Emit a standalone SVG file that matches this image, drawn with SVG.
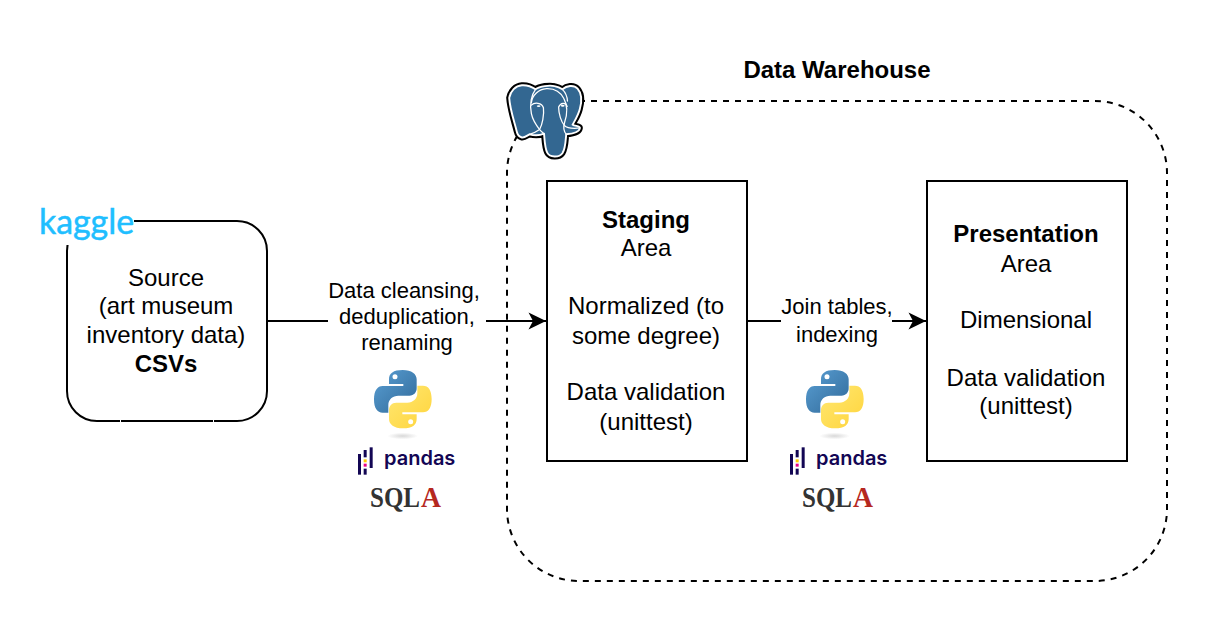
<svg xmlns="http://www.w3.org/2000/svg" width="1208" height="622" viewBox="0 0 1208 622">
<style>
text{font-family:"Liberation Sans",Arial,sans-serif;fill:#000;text-anchor:middle}
.t24{font-size:24px}
.t22{font-size:22px}
.b{font-weight:bold}
.box{fill:#fff;stroke:#000;stroke-width:2}
.conn{fill:none;stroke:#000;stroke-width:2}
.pd{font-family:"Inter","Open Sans",sans-serif;font-size:20px;font-weight:600;fill:#130654;text-anchor:start}
.sq{font-family:"Liberation Serif",serif;font-size:25px;font-weight:bold;fill:#333;text-anchor:start}
.sa{fill:#b5281f}
.elw{fill:none;stroke:#fff;stroke-width:4;stroke-linejoin:round;stroke-linecap:round}
</style>
<defs>
<marker id="arr" markerWidth="20" markerHeight="20" refX="18" refY="10" orient="auto" markerUnits="userSpaceOnUse"><path d="M0.5,1.500 L18,10 L0.5,18.500 L5,10 Z" fill="#000"/></marker>
<linearGradient id="pb" x1="0" y1="0" x2="1" y2="1"><stop offset="0" stop-color="#5a9fd4"/><stop offset="1" stop-color="#306998"/></linearGradient>
<linearGradient id="py" x1="0" y1="0" x2="1" y2="1"><stop offset="0" stop-color="#ffe873"/><stop offset="1" stop-color="#ffd43b"/></linearGradient>
<radialGradient id="ps"><stop offset="0" stop-color="#b8b8b8" stop-opacity=".55"/><stop offset="1" stop-color="#b8b8b8" stop-opacity="0"/></radialGradient>
<g id="python">
<ellipse cx="158" cy="228" rx="46" ry="10" fill="url(#ps)"/>
<path fill="url(#pb)" d="M158,30 C130,30 117,40 117,58 L117,72 L160,72 L160,78 L98,78 C82,78 72,92 72,118 C72,145 82,158 98,158 L115,158 L115,135 C115,118 128,107 145,107 L178,107 C192,107 200,97 200,85 L200,58 C200,42 185,30 158,30 Z"/>
<circle cx="135" cy="50" r="7.5" fill="#fff"/>
<path fill="url(#py)" d="M159,205 C187,205 200,195 200,177 L200,163 L157,163 L157,157 L219,157 C235,157 245,143 245,117 C245,90 235,77 219,77 L202,77 L202,100 C202,117 189,128 172,128 L139,128 C125,128 117,138 117,150 L117,177 C117,193 132,205 159,205 Z"/>
<circle cx="182" cy="185" r="7.5" fill="#fff"/>
</g>
<g id="pmark" fill="#130654">
<rect x="24" y="282" width="9" height="62"/>
<rect x="59" y="262" width="9" height="62"/>
<rect x="41" y="270" width="9" height="22"/>
<rect x="41" y="326" width="9" height="18"/>
<rect x="41" y="298" width="9" height="9" fill="#ffca00"/>
<rect x="41" y="311" width="9" height="9" fill="#e70488"/>
</g>
<path id="elbody" d="M22,65 C26,42 42,27 62,25 C78,24 94,30 105,38 C118,28 150,24 165,28 C175,30 184,34 190,38 C203,27 225,22 238,36 C250,50 252,75 245,100 C240,120 230,135 222,150 C230,155 246,152 245,160 C244,172 225,178 202,180 C200,200 200,225 190,240 C180,254 150,254 142,238 C134,222 134,200 132,178 C118,184 100,184 86,180 C78,184 70,192 62,190 C54,188 48,182 46,172 C38,140 24,100 22,65 Z"/>
</defs>

<g id="connectors">
<path class="conn" d="M267,321 H546" marker-end="url(#arr)"/>
<path class="conn" d="M747,321 H926" marker-end="url(#arr)"/>
</g>

<g id="warehouse">
<rect x="507" y="101" width="660" height="480" rx="72" ry="72" fill="none" stroke="#000" stroke-width="2" stroke-dasharray="6 6"/>
<text class="t24 b" x="837" y="78">Data Warehouse</text>
</g>

<g id="postgres-logo" transform="translate(500 75) scale(.33333) translate(135 138) scale(.95) translate(-135 -138)">
<use href="#elbody" fill="#fff" stroke="#000" stroke-width="19" stroke-linejoin="round"/>
<use href="#elbody" fill="#336791" stroke="#fff" stroke-width="6" stroke-linejoin="round"/>
<path class="elw" d="M105,38 C92,55 86,85 92,115 C96,135 110,155 118,165 C124,172 128,175 132,178"/>
<path class="elw" d="M92,80 C95,55 115,38 140,36 C165,35 185,48 195,68 C208,92 205,118 197,142 C193,155 192,168 202,180"/>
<path class="elw" d="M190,38 C200,48 205,60 206,75"/>
<path class="elw" d="M92,88 C102,78 125,80 130,96 C133,120 126,150 118,165 C108,172 96,178 86,180"/>
<path class="elw" d="M178,94 C184,80 200,78 205,92 M178,94 C178,115 186,140 196,152 C206,162 226,162 245,160"/>
<ellipse cx="115" cy="91" rx="6" ry="3" fill="#fff"/>
<ellipse cx="191" cy="90" rx="6" ry="3" fill="#fff"/>
</g>

<g id="source">
<rect class="box" x="67" y="221" width="200" height="200" rx="30" ry="30"/>
<path d="M120.500,419 V423 M213.500,419 V423" stroke="#fff" stroke-width="1"/>
<text class="t24" x="166" y="286">Source</text>
<text class="t24" x="166" y="314">(art museum</text>
<text class="t24" x="166" y="343">inventory data)</text>
<text class="t24 b" x="166" y="372">CSVs</text>
</g>
<g id="kaggle-logo">
<rect x="38" y="206" width="96" height="39" fill="#fff"/>
<text x="86.500" y="234" font-size="35" textLength="95" lengthAdjust="spacingAndGlyphs" stroke="#20beff" stroke-width=".5" style="font-family:Lato,'Open Sans',sans-serif;fill:#20beff">kaggle</text>
</g>

<g id="label-cleansing">
<rect x="328" y="278" width="158" height="80" fill="#fff"/>
<text class="t22" x="404" y="298">Data cleansing,</text>
<text class="t22" x="407" y="324">deduplication,</text>
<text class="t22" x="407" y="350">renaming</text>
</g>
<g id="logos-1" transform="translate(350 360) scale(.33333)">
<use href="#python"/>
<use href="#pmark"/>
</g>
<text class="pd" x="384" y="465">pandas</text>
<text class="sq" transform="translate(370 507) scale(1 1.18)" textLength="50" lengthAdjust="spacingAndGlyphs">SQL</text>
<text class="sq sa" transform="translate(421 507) scale(1 1.18)" textLength="20" lengthAdjust="spacingAndGlyphs">A</text>

<g id="staging">
<rect class="box" x="547" y="181" width="200" height="280"/>
<text class="t24 b" x="646" y="228">Staging</text>
<text class="t24" x="646" y="256">Area</text>
<text class="t24" x="646" y="314">Normalized (to</text>
<text class="t24" x="646" y="344">some degree)</text>
<text class="t24" x="646" y="400">Data validation</text>
<text class="t24" x="646" y="430">(unittest)</text>
</g>

<g id="label-join">
<rect x="781" y="294" width="111" height="54" fill="#fff"/>
<text class="t22" x="837" y="314">Join tables,</text>
<text class="t22" x="837" y="342">indexing</text>
</g>
<g id="logos-2" transform="translate(782 360) scale(.33333)">
<use href="#python"/>
<use href="#pmark"/>
</g>
<text class="pd" x="816" y="465">pandas</text>
<text class="sq" transform="translate(802 507) scale(1 1.18)" textLength="50" lengthAdjust="spacingAndGlyphs">SQL</text>
<text class="sq sa" transform="translate(853 507) scale(1 1.18)" textLength="20" lengthAdjust="spacingAndGlyphs">A</text>

<g id="presentation">
<rect class="box" x="927" y="181" width="200" height="280"/>
<text class="t24 b" x="1026" y="242">Presentation</text>
<text class="t24" x="1026" y="272">Area</text>
<text class="t24" x="1026" y="328">Dimensional</text>
<text class="t24" x="1026" y="386">Data validation</text>
<text class="t24" x="1026" y="414">(unittest)</text>
</g>
</svg>
